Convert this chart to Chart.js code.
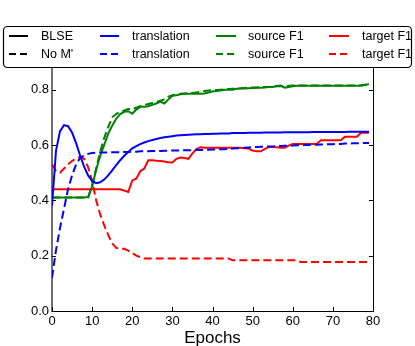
<!DOCTYPE html>
<html>
<head>
<meta charset="utf-8">
<script src="https://cdn.jsdelivr.net/npm/chart.js@4"></script>
<style>
  body { margin: 0; background: #fff; }
  #wrap { width: 415px; height: 346px; position: relative; }
</style>
</head>
<body>
<div id="wrap"><canvas id="epochChart"></canvas></div>
<script>
// epochs 0..79
const epochs = [0,1,2,3,4,5,6,7,8,9,10,11,12,13,14,15,16,17,18,19,
  20,21,22,23,24,25,26,27,28,29,30,31,32,33,34,35,36,37,38,39,
  40,41,42,43,44,45,46,47,48,49,50,51,52,53,54,55,56,57,58,59,
  60,61,62,63,64,65,66,67,68,69,70,71,72,73,74,75,76,77,78,79];

// BLSE (solid)
const blseTranslation = [0.38,0.58,0.65,0.672,0.668,0.645,0.607,0.562,0.522,0.49,
  0.47,0.462,0.465,0.475,0.49,0.508,0.527,0.545,0.561,0.575,
  0.588,0.596,0.603,0.609,0.614,0.618,0.622,0.625,0.628,0.63,
  0.632,0.634,0.635,0.636,0.637,0.638,0.639,0.639,0.64,0.64,
  0.641,0.641,0.642,0.642,0.642,0.643,0.643,0.643,0.643,0.644,
  0.644,0.644,0.644,0.645,0.645,0.645,0.645,0.645,0.646,0.646,
  0.646,0.646,0.646,0.646,0.646,0.647,0.647,0.647,0.647,0.647,
  0.647,0.647,0.647,0.647,0.648,0.648,0.648,0.648,0.648,0.648];
const blseSource = [0.41,0.41,0.41,0.41,0.41,0.41,0.41,0.41,0.41,0.412,
  0.45,0.51,0.56,0.6,0.64,0.67,0.695,0.712,0.72,0.722,
  0.713,0.728,0.738,0.738,0.74,0.745,0.75,0.757,0.75,0.765,
  0.778,0.78,0.783,0.785,0.785,0.785,0.785,0.785,0.786,0.79,
  0.793,0.795,0.797,0.8,0.8,0.8,0.803,0.804,0.804,0.805,
  0.806,0.807,0.807,0.808,0.81,0.81,0.813,0.815,0.807,0.81,
  0.812,0.814,0.814,0.814,0.814,0.814,0.814,0.814,0.814,0.814,
  0.814,0.814,0.814,0.814,0.814,0.814,0.814,0.814,0.817,0.82];
const blseTarget = [0.44,0.44,0.44,0.44,0.44,0.44,0.44,0.44,0.44,0.44,
  0.44,0.44,0.44,0.44,0.44,0.44,0.44,0.44,0.435,0.43,
  0.472,0.478,0.505,0.515,0.545,0.545,0.543,0.542,0.54,0.538,
  0.537,0.55,0.555,0.553,0.55,0.57,0.585,0.592,0.59,0.59,
  0.59,0.59,0.59,0.59,0.59,0.59,0.59,0.59,0.588,0.587,
  0.58,0.577,0.577,0.585,0.593,0.593,0.592,0.59,0.59,0.598,
  0.604,0.604,0.604,0.604,0.604,0.604,0.604,0.617,0.617,0.617,
  0.617,0.617,0.617,0.63,0.63,0.63,0.63,0.644,0.644,0.644];

// No M' (dashed)
const noMTranslation = [0.12,0.22,0.3,0.37,0.44,0.49,0.53,0.553,0.563,0.568,
  0.571,0.572,0.573,0.573,0.573,0.574,0.574,0.574,0.575,0.575,
  0.576,0.576,0.577,0.577,0.577,0.578,0.578,0.578,0.579,0.579,
  0.58,0.58,0.58,0.581,0.581,0.581,0.582,0.582,0.582,0.583,
  0.584,0.584,0.585,0.585,0.586,0.587,0.588,0.589,0.59,0.591,
  0.592,0.593,0.594,0.594,0.595,0.595,0.596,0.596,0.597,0.597,
  0.598,0.599,0.599,0.6,0.6,0.601,0.601,0.602,0.602,0.603,
  0.603,0.604,0.604,0.605,0.605,0.606,0.606,0.607,0.607,0.607];
const noMSource = [0.41,0.41,0.41,0.41,0.41,0.41,0.41,0.41,0.41,0.41,
  0.455,0.515,0.575,0.625,0.665,0.7,0.712,0.72,0.725,0.73,
  0.73,0.735,0.74,0.745,0.748,0.752,0.755,0.76,0.765,0.775,
  0.78,0.782,0.785,0.786,0.787,0.788,0.79,0.792,0.795,0.797,
  0.798,0.799,0.8,0.801,0.802,0.803,0.804,0.805,0.806,0.807,
  0.808,0.808,0.809,0.81,0.81,0.811,0.812,0.812,0.813,0.814,
  0.815,0.815,0.815,0.815,0.815,0.815,0.815,0.815,0.815,0.815,
  0.815,0.815,0.815,0.815,0.815,0.815,0.815,0.816,0.818,0.82];
const noMTarget = [0.53,0.505,0.5,0.515,0.53,0.542,0.552,0.557,0.55,0.52,
  0.47,0.4,0.35,0.31,0.275,0.245,0.228,0.225,0.225,0.218,
  0.21,0.2,0.195,0.19,0.19,0.19,0.19,0.19,0.19,0.19,
  0.19,0.19,0.19,0.19,0.19,0.19,0.19,0.19,0.19,0.19,
  0.19,0.19,0.19,0.19,0.19,0.183,0.183,0.183,0.183,0.183,
  0.183,0.183,0.183,0.183,0.183,0.183,0.183,0.183,0.183,0.183,
  0.183,0.183,0.177,0.177,0.177,0.177,0.177,0.177,0.177,0.177,
  0.177,0.177,0.177,0.177,0.177,0.177,0.177,0.177,0.177,0.177];

const xTicks = [0, 10, 20, 30, 40, 50, 60, 70, 80];
const yTicks = [0.0, 0.2, 0.4, 0.6, 0.8];

const legendRows = [
  { label: 'BLSE', color: '#000000', dash: [] },
  { label: "No M'", color: '#000000', dash: [7, 4] }
];
const legendColumns = [
  { labels: ['translation', 'translation'], color: '#0000ff' },
  { labels: ['source F1', 'source F1'], color: '#008000' },
  { labels: ['target F1', 'target F1'], color: '#ff0000' }
];

function toPoints(values) {
  return values.map((v, i) => ({ x: epochs[i], y: v }));
}

function lineSet(label, values, color, dashed) {
  return {
    label: label,
    data: toPoints(values),
    borderColor: color,
    borderWidth: 2,
    borderDash: dashed ? [8, 4] : [],
    pointRadius: 0,
    tension: 0,
    fill: false
  };
}

// inward ticks + right spine, like the matplotlib frame
const framePlugin = {
  id: 'frame',
  afterDatasetsDraw(chart) {
    const ctx = chart.ctx;
    const a = chart.chartArea;
    const xs = chart.scales.x, ys = chart.scales.y;
    ctx.save();
    ctx.strokeStyle = '#000';
    ctx.lineWidth = 1;
    ctx.beginPath();
    ctx.moveTo(a.right + 0.5, a.top);
    ctx.lineTo(a.right + 0.5, a.bottom);
    xTicks.forEach(t => {
      const px = Math.round(xs.getPixelForValue(t)) + 0.5;
      ctx.moveTo(px, a.bottom);
      ctx.lineTo(px, a.bottom - 4);
    });
    yTicks.forEach(t => {
      const py = Math.round(ys.getPixelForValue(t)) + 0.5;
      ctx.moveTo(a.left, py);
      ctx.lineTo(a.left + 4, py);
      ctx.moveTo(a.right, py);
      ctx.lineTo(a.right - 4, py);
    });
    ctx.stroke();
    ctx.restore();
  }
};

// boxed two-row legend above the plot
const legendPlugin = {
  id: 'boxLegend',
  afterDraw(chart) {
    const ctx = chart.ctx;
    ctx.save();
    ctx.fillStyle = '#fff';
    ctx.strokeStyle = '#000';
    ctx.lineWidth = 1.2;
    ctx.beginPath();
    ctx.roundRect(3.5, 26.5, 408, 41, 4);
    ctx.fill();
    ctx.stroke();

    const rowY = [36, 54];
    const colX = [[100, 119, 132], [216, 236, 248], [329, 349, 362]];
    ctx.font = '12.5px "Liberation Sans", Arial, sans-serif';
    ctx.textBaseline = 'middle';
    ctx.fillStyle = '#000';
    ctx.lineWidth = 2;

    legendRows.forEach((r, i) => {
      ctx.strokeStyle = r.color;
      ctx.setLineDash(r.dash);
      ctx.beginPath();
      ctx.moveTo(9, rowY[i]);
      ctx.lineTo(28, rowY[i]);
      ctx.stroke();
      ctx.fillText(r.label, 41, rowY[i] + 0.5);
    });
    legendColumns.forEach((c, j) => {
      c.labels.forEach((lab, i) => {
        ctx.strokeStyle = c.color;
        ctx.setLineDash(legendRows[i].dash);
        ctx.beginPath();
        ctx.moveTo(colX[j][0], rowY[i]);
        ctx.lineTo(colX[j][1], rowY[i]);
        ctx.stroke();
        ctx.fillText(lab, colX[j][2], rowY[i] + 0.5);
      });
    });
    ctx.restore();
  }
};

const epochCtx = document.getElementById('epochChart').getContext('2d');
const epochChart = new Chart(epochCtx, {
  type: 'line',
  data: {
    datasets: [
      lineSet('BLSE translation', blseTranslation, '#0000ff', false),
      lineSet("No M' translation", noMTranslation, '#0000ff', true),
      lineSet('BLSE source F1', blseSource, '#008000', false),
      lineSet("No M' source F1", noMSource, '#008000', true),
      lineSet('BLSE target F1', blseTarget, '#ff0000', false),
      lineSet("No M' target F1", noMTarget, '#ff0000', true)
    ]
  },
  options: {
    responsive: true,
    maintainAspectRatio: false,
    animation: false,
    layout: { padding: { top: 62, right: 42, left: 0, bottom: 0 } },
    plugins: {
      legend: { display: false },
      tooltip: { enabled: false }
    },
    scales: {
      x: {
        type: 'linear',
        min: 0,
        max: 80,
        afterBuildTicks: s => { s.ticks = xTicks.map(v => ({ value: v })); },
        afterFit: s => { s.height = 35; },
        grid: { display: false, drawTicks: false },
        border: { display: true, color: '#000', width: 1 },
        ticks: {
          padding: 3,
          color: '#000',
          font: { family: '"Liberation Sans", Arial, sans-serif', size: 13 }
        },
        title: {
          display: true,
          text: 'Epochs',
          color: '#000',
          padding: { top: 0, bottom: -3 },
          font: { family: '"Liberation Sans", Arial, sans-serif', size: 17 }
        }
      },
      y: {
        min: 0,
        max: 0.9,
        afterBuildTicks: s => { s.ticks = yTicks.map(v => ({ value: v })); },
        afterFit: s => { s.width = 52; },
        grid: { display: false, drawTicks: false },
        border: { display: true, color: '#6e6e6e', width: 2 },
        ticks: {
          padding: 3,
          color: '#000',
          callback: v => v.toFixed(1),
          font: { family: '"Liberation Sans", Arial, sans-serif', size: 13 }
        }
      }
    }
  },
  plugins: [framePlugin, legendPlugin]
});
</script>
</body>
</html>
